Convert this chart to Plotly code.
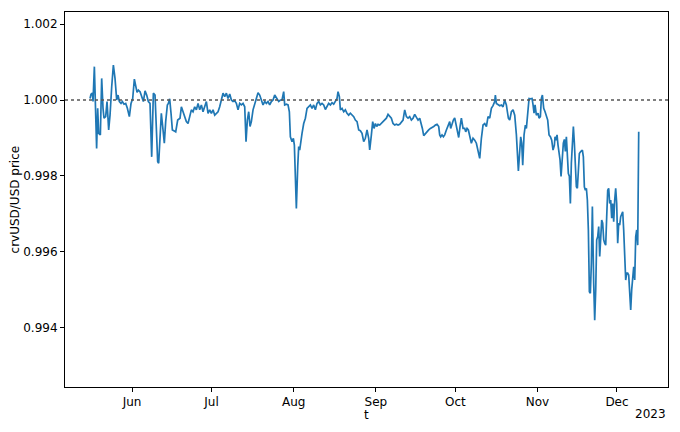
import pandas as pd
import plotly.graph_objects as go

START_DATE = "2023-05-16"

# time offsets (days since START_DATE) and crvUSD/USD price, per stretch of the series
days_may_jun = [0.15,0.53,1.03,1.28,1.79,2.16,2.64,3.04,3.42,4.05,4.55,5.06,5.43,6.06,6.57,7.19,7.70,8.33,8.96,9.58,
                10.21,10.72,11.22,11.85,12.35,12.98,13.61,14.24,14.99,15.62,16.25,16.88,17.38,17.89,18.39,19.02,19.65,20.28,20.91,21.53,
                22.16,22.79,23.42,24.05,24.68,25.18,25.68,26.06,26.56,27.06,27.57,28.19,28.70,29.33,29.71,30.21,30.72,31.22,31.98,32.48,
                33.23,34.11]
price_may_jun = [1.00004,1.00015,1.00018,0.99996,1.00088,0.99996,0.99872,0.99978,0.99912,0.99908,1.00057,0.99978,0.99952,0.99956,0.99996,0.99921,0.99960,1.00035,1.00092,1.00057,
                 1.00000,1.00013,0.99996,0.99991,0.99996,0.99989,0.99991,0.99978,0.99956,0.99991,1.00004,1.00055,1.00040,1.00020,1.00026,1.00022,1.00009,0.99996,1.00024,1.00013,
                 0.99996,0.99991,0.99850,1.00018,1.00013,0.99943,0.99837,0.99833,0.99908,0.99965,0.99930,0.99886,0.99943,0.99987,0.99991,1.00003,0.99965,0.99921,0.99918,0.99916,
                 0.99947,0.99952]

days_jun_jul = [34.62,35.25,35.88,36.50,37.13,37.76,38.39,39.02,39.65,40.28,40.91,41.54,42.17,42.79,43.42,44.05,44.68,45.31,45.94,46.57,
                47.20,47.83,48.45,49.08,49.71,50.34,50.97,51.60,52.23,52.86,53.49,54.12,54.74,55.37,56.00,56.63,57.26,57.89,58.52,59.02,
                59.52,60.03,60.53,61.03,61.66,62.29,62.92,63.55,64.18,64.81,65.44,66.07,66.69,67.32,67.95,68.58,69.21,69.84]
price_jun_jul = [0.99982,0.99969,0.99956,0.99943,0.99938,0.99956,0.99974,0.99969,0.99982,0.99974,0.99991,0.99974,0.99987,0.99969,0.99982,0.99996,0.99965,0.99974,0.99965,0.99974,
                 0.99960,0.99965,0.99969,0.99982,1.00000,1.00018,1.00009,1.00018,1.00004,1.00016,1.00000,0.99996,0.99998,0.99991,0.99974,0.99991,0.99987,0.99991,0.99982,0.99890,
                 0.99947,0.99969,0.99930,0.99943,0.99974,0.99991,1.00004,1.00019,1.00013,1.00000,0.99987,0.99996,0.99991,0.99996,0.99987,0.99996,1.00000,1.00013]

days_jul_aug = [70.72,71.35,71.97,72.60,73.23,73.61,74.24,74.87,75.37,75.75,76.38,76.88,77.26,77.63,78.01,78.52,78.89,79.27,79.65,80.15,
                80.78,81.41,82.04,82.67,83.30,83.92,84.55,85.18,85.81,86.44,87.07,87.70,88.33,88.96,89.59,90.21,90.84,91.47,92.10,92.73,
                93.36,93.74,94.24,94.62,95.25,95.88,96.50,97.13,97.76,98.39,99.02,99.65,100.28,100.91,101.54,102.16,102.79,103.42,104.05,104.68,
                105.31,105.69]
price_jul_aug = [1.00004,0.99996,1.00000,1.00000,1.00022,0.99987,0.99989,0.99987,0.99969,0.99903,0.99890,0.99899,0.99881,0.99789,0.99714,0.99824,0.99877,0.99868,0.99890,0.99912,
                 0.99938,0.99952,0.99978,0.99984,0.99987,0.99978,0.99987,0.99974,0.99991,0.99996,0.99987,0.99991,0.99987,0.99975,0.99982,0.99991,0.99987,0.99993,0.99989,0.99996,
                 1.00004,1.00022,1.00009,0.99974,0.99978,0.99969,0.99974,0.99965,0.99960,0.99965,0.99960,0.99956,0.99947,0.99943,0.99921,0.99919,0.99912,0.99890,0.99899,0.99921,
                 0.99899,0.99868]

days_sep = [106.32,106.82,107.32,107.83,108.33,108.83,109.46,110.09,110.72,111.35,111.98,112.61,113.24,113.86,114.49,115.12,115.75,116.38,117.01,117.64,
            118.27,118.90,119.53,120.15,120.78,121.41,122.04,122.67,123.30,123.93,124.56,125.19,125.56,126.07,126.70,127.32,127.95,128.58,129.21,129.84,
            130.47,131.10,131.73,132.10,132.48,132.98,133.49,133.99,134.62,135.25,135.88,136.25,136.76,137.26,137.76,138.27,138.77,139.27,139.78,140.28,
            140.91,141.54]
price_sep = [0.99908,0.99943,0.99925,0.99938,0.99930,0.99936,0.99934,0.99938,0.99943,0.99947,0.99952,0.99962,0.99956,0.99952,0.99938,0.99934,0.99936,0.99934,0.99936,0.99943,
             0.99947,0.99974,0.99956,0.99952,0.99956,0.99947,0.99952,0.99962,0.99956,0.99947,0.99952,0.99938,0.99925,0.99906,0.99912,0.99916,0.99921,0.99925,0.99927,0.99930,
             0.99934,0.99936,0.99930,0.99908,0.99903,0.99908,0.99903,0.99908,0.99921,0.99930,0.99943,0.99925,0.99938,0.99947,0.99953,0.99934,0.99912,0.99901,0.99930,0.99952,
             0.99925,0.99925]

days_oct = [141.92,142.42,142.92,143.43,144.05,144.68,145.31,145.94,146.57,147.20,147.83,148.46,149.09,149.72,150.34,150.97,151.60,152.23,152.86,153.11,
            153.49,154.12,154.75,155.38,156.00,156.63,157.26,157.64,158.02,158.52,159.15,159.78,160.41,161.04,161.42,161.79,162.29,162.67,163.05,163.43,
            163.93,164.43,164.81,165.31,165.82,166.32,166.95,167.33,167.70,168.08,168.58,169.21,169.59,170.09,170.47,170.85,171.35,171.86,172.36,172.86,
            173.36,173.87,174.37,174.87,175.38]
price_oct = [0.99916,0.99925,0.99921,0.99908,0.99886,0.99899,0.99894,0.99886,0.99864,0.99846,0.99899,0.99934,0.99938,0.99930,0.99956,0.99952,0.99978,0.99985,0.99996,1.00013,
             0.99991,0.99987,0.99985,0.99987,0.99982,1.00000,0.99987,0.99969,0.99952,0.99947,0.99969,0.99974,0.99960,0.99908,0.99850,0.99813,0.99864,0.99903,0.99886,0.99828,
             0.99908,0.99934,0.99925,0.99978,1.00004,1.00003,1.00004,0.99987,0.99965,0.99987,0.99960,0.99965,0.99952,0.99956,1.00004,1.00013,0.99978,0.99969,0.99960,0.99947,
             0.99908,0.99903,0.99894,0.99868,0.99881]

days_nov_dec = [175.62,176.00,176.38,176.75,177.13,177.51,177.89,178.26,178.76,179.14,179.52,179.90,180.27,180.65,181.03,181.41,181.78,182.16,182.54,182.92,
                183.29,183.67,184.05,184.43,184.80,185.31,185.94,186.31,186.69,187.07,187.45,187.82,188.20,188.58,188.95,189.33,189.71,190.21,190.59,190.97,
                191.34,191.72,192.10,192.48,192.85,193.23,193.61,193.99,194.36,194.74,195.12,195.50,195.87,196.25,196.63,197.00,197.38,197.76,198.14,198.51,
                198.89,199.27,199.65,200.02,200.40,200.78,201.16,201.53,201.91,202.29,202.67,203.04,203.42,203.80,204.18,204.55,204.93,205.31,205.69,206.06,
                206.44,206.82,207.20]
price_nov_dec = [0.99903,0.99894,0.99908,0.99881,0.99859,0.99842,0.99798,0.99850,0.99886,0.99896,0.99864,0.99903,0.99850,0.99806,0.99799,0.99727,0.99833,0.99881,0.99930,0.99886,
                 0.99806,0.99771,0.99767,0.99815,0.99859,0.99864,0.99868,0.99850,0.99771,0.99762,0.99767,0.99736,0.99657,0.99494,0.99490,0.99569,0.99719,0.99516,0.99419,0.99499,
                 0.99631,0.99639,0.99666,0.99587,0.99657,0.99683,0.99675,0.99631,0.99622,0.99617,0.99692,0.99762,0.99767,0.99727,0.99736,0.99688,0.99727,0.99679,0.99736,0.99767,
                 0.99727,0.99622,0.99675,0.99670,0.99692,0.99701,0.99705,0.99657,0.99569,0.99525,0.99543,0.99543,0.99538,0.99499,0.99446,0.99499,0.99525,0.99560,0.99525,0.99639,
                 0.99657,0.99617,0.99916]

PEG = 1.0
month_ticks = ["2023-06-01", "2023-07-01", "2023-08-01", "2023-09-01", "2023-10-01", "2023-11-01", "2023-12-01"]
month_labels = ["Jun", "Jul", "Aug", "Sep", "Oct", "Nov", "Dec"]
price_ticks = [0.994, 0.996, 0.998, 1.000, 1.002]

days = days_may_jun + days_jun_jul + days_jul_aug + days_sep + days_oct + days_nov_dec
price = price_may_jun + price_jun_jul + price_jul_aug + price_sep + price_oct + price_nov_dec
t = pd.Timestamp(START_DATE) + pd.to_timedelta(days, unit="D")

FONT = "DejaVu Sans, Liberation Sans, sans-serif"

fig = go.Figure()
fig.add_trace(go.Scatter(x=t, y=price, mode="lines",
                         line=dict(color="#1f77b4", width=1.7), showlegend=False))
fig.add_shape(type="line", xref="paper", x0=0, x1=1, yref="y", y0=PEG, y1=PEG,
              line=dict(color="#555555", width=1.3, dash="dot"))

# page body adds an 8px offset, so the figure is 672x424 with margins compensating
fig.update_layout(
    width=672, height=424,
    margin=dict(l=57, r=12, t=4, b=45, autoexpand=False),
    paper_bgcolor="white", plot_bgcolor="white",
    font=dict(family=FONT, size=12, color="black"),
    xaxis=dict(range=["2023-05-06 17:00", "2023-12-20 06:00"],
               tickvals=month_ticks, ticktext=month_labels,
               showgrid=False, zeroline=False, automargin=False,
               showline=True, mirror=True, linecolor="black", linewidth=1,
               ticks="outside", ticklen=4, tickwidth=1, tickcolor="black",
               tickfont=dict(size=12)),
    yaxis=dict(range=[0.992427, 1.002322],
               tickvals=price_ticks, tickformat=".3f",
               showgrid=False, zeroline=False, automargin=False,
               showline=True, mirror=True, linecolor="black", linewidth=1,
               ticks="outside", ticklen=4, tickwidth=1, tickcolor="black",
               tickfont=dict(size=12)),
    annotations=[
        dict(text="crvUSD/USD price", xref="paper", yref="paper", x=-0.083, y=0.5,
             xanchor="center", yanchor="middle", textangle=-90, showarrow=False,
             font=dict(size=12)),
        dict(text="t", xref="paper", yref="paper", x=0.5, y=-0.075,
             xanchor="center", yanchor="middle", showarrow=False, font=dict(size=12)),
        dict(text="2023", xref="paper", yref="paper", x=1.0, y=-0.072,
             xanchor="right", yanchor="middle", showarrow=False, font=dict(size=12)),
    ],
)

fig.write_html("out.html")
